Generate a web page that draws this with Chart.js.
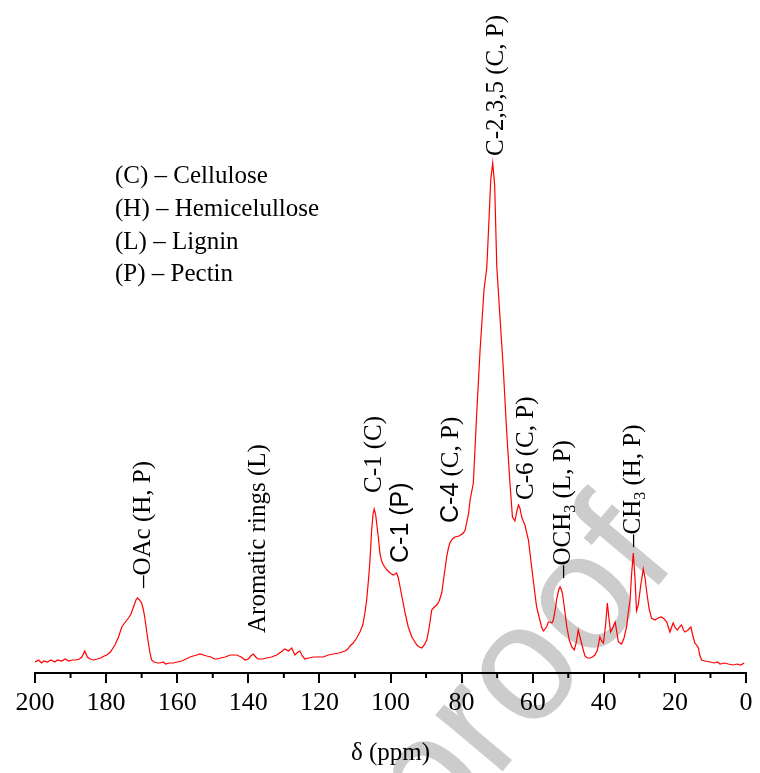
<!DOCTYPE html>
<html><head><meta charset="utf-8">
<script src="https://cdn.jsdelivr.net/npm/chart.js@4.4.1/dist/chart.umd.min.js"></script>
<style>html,body{margin:0;padding:0;background:#fff;} #wrap{width:760px;height:773px;position:relative;}</style>
</head><body><div id="wrap"><canvas id="c"></canvas></div>
<script>
// chemical shift (ppm) and intensity (arbitrary units)
const ppm = [200.0,199.0,198.2,197.5,196.5,195.5,194.5,193.6,192.5,191.5,190.5,189.5,188.5,187.5,186.8,186.0,185.3,184.5,183.6,182.5,181.5,180.5,179.8,178.8,177.5,176.5,175.6,174.6,173.7,173.0,172.3,171.6,171.2,170.6,170.0,169.5,169.1,168.6,168.1,167.6,167.2,166.5,165.5,164.8,164.0,163.2,162.3,161.1,160.0,158.7,157.5,156.4,155.5,154.5,153.6,152.6,151.7,150.5,149.5,148.9,147.8,146.5,145.1,144.2,143.3,142.0,140.9,140.0,139.3,138.6,137.9,137.3,136.0,134.8,133.5,132.0,130.8,129.7,128.7,127.8,126.9,126.0,125.5,124.8,124.1,123.0,121.7,120.3,118.9,117.5,116.1,114.5,112.8,112.0,111.4,110.5,109.5,108.6,107.8,107.2,106.7,106.2,105.8,105.3,104.9,104.6,104.2,103.9,103.4,103.0,102.5,102.0,101.0,100.1,99.2,98.7,98.3,97.8,97.3,96.6,95.9,95.0,94.0,93.3,92.6,91.9,91.2,90.5,89.8,89.1,88.4,87.7,87.0,86.3,85.6,84.9,84.2,83.7,83.3,82.6,81.9,80.7,79.5,79.0,78.6,78.1,77.6,76.7,75.8,74.8,73.7,72.9,72.3,71.8,71.25,70.7,70.1,69.2,68.3,67.3,66.4,65.7,65.0,64.5,64.0,63.6,63.1,62.2,61.2,60.3,59.5,58.9,58.0,57.5,57.0,56.5,56.1,55.6,55.1,54.6,54.2,53.6,53.2,52.7,52.3,51.9,51.6,51.0,50.4,49.7,49.0,48.3,47.7,47.2,46.7,46.2,45.7,45.3,44.6,43.9,43.2,42.5,41.8,41.1,40.6,40.1,39.5,39.0,38.5,38.1,37.5,36.8,36.3,35.9,35.0,34.3,33.6,33.1,32.6,32.2,31.7,31.2,30.8,30.3,29.6,28.9,28.4,28.0,27.3,26.6,25.6,24.7,23.8,23.0,22.3,21.4,20.5,19.9,19.3,18.7,18.1,17.6,17.2,16.3,15.5,15.0,14.4,13.9,13.4,13.0,12.5,11.5,10.1,9.0,8.0,7.3,6.0,5.0,3.6,2.5,1.5,0.5];
const intensity = [11,13,10,12,11,13,11,13,12,14,12,13,13,14,16,22,16,14,13,14,15,17,18,21,28,36,46,51,55,59,66,73,75,73,70,63,55,42,30,19,13,11,10,10,11,9,10,10,11,12,14,16,17,18,19,18,17,16,14,14,15,16,18,18,18,16,13,14,17,19,16,14,14,15,16,18,21,24,22,25,18,21,22,17,14,15,16,16,16,18,19,20,22,24,27,30,35,41,48,60,73,93,111,143,159,164,159,150,135,120,112,108,103,100,98,99,100,95,86,73,60,46,36,32,28,26,25,28,33,46,63,66,68,72,80,98,116,125,130,134,136,137,140,143,150,158,173,190,256,323,383,406,453,493,510,488,406,356,306,240,190,156,152,161,168,165,156,148,133,106,83,66,53,46,42,44,46,51,51,50,53,65,75,83,86,83,79,63,46,33,26,23,31,43,36,29,22,17,15,15,16,18,23,36,32,30,48,70,53,41,45,51,40,31,29,35,46,61,73,98,120,93,62,68,88,104,95,83,65,55,53,55,56,54,51,41,50,45,43,46,48,43,41,43,46,38,30,28,25,18,13,12,11,10,11,9,10,9,8,9,8,10];
const xTickValues = [200,180,160,140,120,100,80,60,40,20,0];
const minorTickValues = [190,170,150,130,110,90,70,50,30,10];
const legendLines = ['(C) \u2013 Cellulose','(H) \u2013 Hemicelullose','(L) \u2013 Lignin','(P) \u2013 Pectin'];
const xTitle = '\u03b4 (ppm)';
const peakLabels = [
  {ppm:170.0, at:85,  parts:[{t:'\u2013OAc (H, P)'}]},
  {ppm:137.6, at:40,  parts:[{t:'Aromatic rings (L)'}]},
  {ppm:104.9, at:180, parts:[{t:'C-1 (C)'}]},
  {ppm:97.3,  at:110, parts:[{t:'C-1 (P)', sans:true}]},
  {ppm:83.3,  at:150, parts:[{t:'C-4', sans:true},{t:' (C, P)'}]},
  {ppm:70.6,  at:517, parts:[{t:'C-2,3,5 (C, P)'}]},
  {ppm:62.2,  at:173, parts:[{t:'C-6 (C, P)'}]},
  {ppm:51.8,  at:95,  parts:[{t:'\u2013OCH'},{t:'3',sub:true},{t:' (L, P)'}]},
  {ppm:32.2,  at:126, parts:[{t:'\u2013CH'},{t:'3',sub:true},{t:' (H, P)'}]}
];

const SERIF = '"Liberation Serif", "Times New Roman", serif';
const SANS = '"Liberation Sans", Arial, sans-serif';

const decor = {
  id: 'decor',
  beforeDraw(chart) {
    const ctx = chart.ctx;
    ctx.save();
    ctx.fillStyle = '#ffffff';
    ctx.fillRect(0, 0, chart.width, chart.height);
    // watermark
    ctx.translate(679, 561);
    ctx.rotate(-50 * Math.PI / 180);
    ctx.font = '166px ' + SANS;
    ctx.fillStyle = '#cccccc';
    ctx.textAlign = 'right';
    ctx.textBaseline = 'alphabetic';
    ctx.fillText('Journal Pre-proof', 0, 0);
    ctx.restore();
  },
  afterDraw(chart) {
    const ctx = chart.ctx;
    const xs = chart.scales.x, ys = chart.scales.y;
    const bottom = chart.chartArea.bottom;
    ctx.save();
    // minor ticks
    ctx.strokeStyle = '#000';
    ctx.lineWidth = 2;
    minorTickValues.forEach(v => {
      const px = xs.getPixelForValue(v);
      ctx.beginPath(); ctx.moveTo(px, bottom); ctx.lineTo(px, bottom + 5); ctx.stroke();
    });
    // legend text
    ctx.fillStyle = '#000';
    ctx.font = '25px ' + SERIF;
    ctx.textAlign = 'left';
    ctx.textBaseline = 'alphabetic';
    legendLines.forEach((t, i) => ctx.fillText(t, 115, 183 + i * 32.8));
    // peak labels
    const size = 25;
    peakLabels.forEach(l => {
      const x = xs.getPixelForValue(l.ppm) + 8;
      const y = ys.getPixelForValue(l.at);
      ctx.save();
      ctx.translate(x, y);
      ctx.rotate(-Math.PI / 2);
      let cx = 0;
      l.parts.forEach(p => {
        const fs = p.sub ? 16 : size;
        ctx.font = fs + 'px ' + (p.sans ? SANS : SERIF);
        ctx.fillText(p.t, cx, p.sub ? 5 : 0);
        cx += ctx.measureText(p.t).width;
      });
      ctx.restore();
    });
    ctx.restore();
  }
};

new Chart(document.getElementById('c'), {
  type: 'line',
  data: {
    datasets: [{
      data: ppm.map((v, i) => ({x: v, y: intensity[i]})),
      borderColor: '#ff0000',
      borderWidth: 1.2,
      pointRadius: 0,
      tension: 0,
      fill: false
    }]
  },
  options: {
    responsive: true,
    maintainAspectRatio: false,
    animation: false,
    layout: {padding: {left: 35, right: 14, top: 0, bottom: 0}},
    plugins: {legend: {display: false}, tooltip: {enabled: false}},
    scales: {
      x: {
        type: 'linear', reverse: true, min: 0, max: 200, position: 'bottom',
        afterFit: s => { s.height = 100; },
        afterBuildTicks: s => { s.ticks = xTickValues.map(v => ({value: v})); },
        border: {display: true, color: '#000', width: 2},
        grid: {display: true, drawOnChartArea: false, drawTicks: true, tickLength: 10, color: '#000', lineWidth: 2},
        ticks: {color: '#000', font: {family: SERIF, size: 26}, padding: 5, maxRotation: 0, autoSkip: false},
        title: {display: true, text: xTitle, color: '#000', font: {family: SERIF, size: 25}, padding: {top: 0, bottom: 5}}
      },
      y: {display: false, min: 0, max: 673}
    }
  },
  plugins: [decor]
});
</script>
</body></html>
